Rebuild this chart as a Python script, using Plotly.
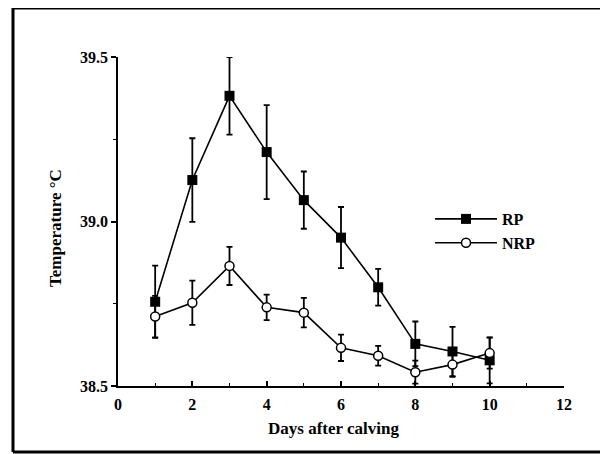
import plotly.graph_objects as go

days = [1, 2, 3, 4, 5, 6, 7, 8, 9, 10]
rp_mean = [38.756, 39.126, 39.382, 39.211, 39.065, 38.951, 38.800, 38.628, 38.605, 38.578]
rp_err = [0.11, 0.127, 0.118, 0.143, 0.087, 0.093, 0.056, 0.068, 0.075, 0.07]
nrp_mean = [38.711, 38.753, 38.865, 38.739, 38.723, 38.616, 38.592, 38.542, 38.565, 38.600]
nrp_err = [0.063, 0.067, 0.058, 0.039, 0.045, 0.04, 0.03, 0.035, 0.037, 0.047]

x_ticks = [0, 2, 4, 6, 8, 10, 12]
y_ticks = [38.5, 39.0, 39.5]
x_title = "Days after calving"
y_title = "Temperature °C"

FONT = "Liberation Serif"

fig = go.Figure()
fig.add_trace(go.Scatter(
    x=days, y=rp_mean, name="RP", mode="lines+markers",
    line=dict(color="black", width=1.6),
    marker=dict(symbol="square", size=10, color="black"),
    error_y=dict(type="data", array=rp_err, color="black", thickness=1.8, width=3),
    cliponaxis=False,
))
fig.add_trace(go.Scatter(
    x=days, y=nrp_mean, name="NRP", mode="lines+markers",
    line=dict(color="black", width=1.6),
    marker=dict(symbol="circle", size=9, color="white", line=dict(color="black", width=1.5)),
    error_y=dict(type="data", array=nrp_err, color="black", thickness=1.8, width=3),
    cliponaxis=False,
))

# page is offset by the browser's default 8px body margin
OFF = 8
W, H = 600, 446
L, R, T, B = 110, 44, 49, 68
pw, ph = W - L - R, H - T - B

def px(xp):
    return (xp - OFF - L) / pw

def py(yp):
    return (H - B - (yp - OFF)) / ph

shape_line = dict(color="black", width=3)
fig.add_shape(type="line", xref="paper", yref="paper", x0=px(13), x1=px(630), y0=py(8), y1=py(8), line=shape_line)
fig.add_shape(type="line", xref="paper", yref="paper", x0=px(13), x1=px(13), y0=py(8), y1=py(452), line=shape_line)
fig.add_shape(type="line", xref="paper", yref="paper", x0=px(13), x1=px(630), y0=py(452), y1=py(452), line=shape_line)

title_font = dict(family=FONT, size=17, weight="bold", color="black")
fig.add_annotation(text=x_title, xref="paper", yref="paper", x=px(333), y=py(428),
                   xanchor="center", yanchor="middle", showarrow=False, font=title_font)
fig.add_annotation(text=y_title, xref="paper", yref="paper", x=px(55), y=py(228),
                   xanchor="center", yanchor="middle", textangle=-90, showarrow=False, font=title_font)

fig.update_layout(
    width=W, height=H,
    margin=dict(l=L, r=R, t=T, b=B),
    paper_bgcolor="white", plot_bgcolor="white",
    font=dict(family=FONT, color="black", size=16, weight="bold"),
    showlegend=True,
    legend=dict(
        x=px(430), y=py(202), xanchor="left", yanchor="top",
        font=dict(family=FONT, size=16, weight="bold", color="black"),
        bgcolor="rgba(0,0,0,0)", tracegroupgap=0, itemwidth=62,
    ),
    xaxis=dict(
        range=[0, 12], tickvals=x_ticks, ticktext=[str(v) for v in x_ticks],
        showgrid=False, zeroline=False, showline=True, linecolor="black", linewidth=1.5,
        ticks="inside", ticklen=5, tickwidth=1.5, tickcolor="black",
        minor=dict(tickvals=[1, 3, 5, 7, 9, 11], ticks="inside", ticklen=3, tickwidth=1, tickcolor="black"),
        tickfont=dict(family=FONT, size=16, weight="bold"),
        ticklabelstandoff=3,
    ),
    yaxis=dict(
        range=[38.5, 39.5], tickvals=y_ticks, ticktext=["%.1f" % v for v in y_ticks],
        showgrid=False, zeroline=False, showline=True, linecolor="black", linewidth=1.5,
        ticks="outside", ticklen=5, tickwidth=1.5, tickcolor="black",
        minor=dict(tickvals=[38.75, 39.25], ticks="outside", ticklen=3, tickwidth=1, tickcolor="black"),
        tickfont=dict(family=FONT, size=16, weight="bold"),
    ),
)

fig.write_html("out.html")
